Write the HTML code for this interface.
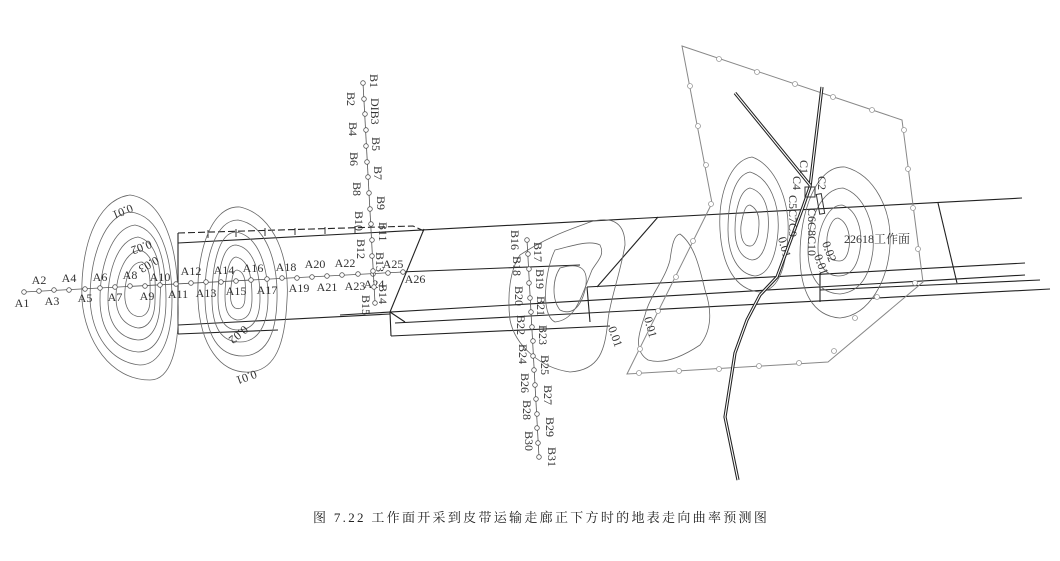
<!DOCTYPE html>
<html><head><meta charset="utf-8"><style>
html,body{margin:0;padding:0;background:#fff;width:1060px;height:561px;overflow:hidden}
svg{display:block}
text{font-family:"Liberation Serif","Noto Serif CJK SC",serif;font-size:12px;fill:#333}
.c{fill:none;stroke:#666;stroke-width:0.8}
.k{fill:none;stroke:#222;stroke-width:1.1}
.g{fill:none;stroke:#888;stroke-width:1}
.p{fill:#fff;stroke:#555;stroke-width:0.8}
.gp{fill:#fff;stroke:#999;stroke-width:0.8}
</style></head><body>
<svg width="1060" height="561" viewBox="0 0 1060 561" xmlns="http://www.w3.org/2000/svg">
<g class="k">
<line x1="178" y1="243" x2="1022" y2="198"/>
<polyline points="178,233 413,226 424,231" stroke-dasharray="7,3"/>
<line x1="178" y1="233" x2="178" y2="243"/>
<line x1="178" y1="243" x2="178" y2="334"/>
<line x1="178" y1="325" x2="390" y2="314"/>
<line x1="178" y1="334" x2="278" y2="330"/>
<line x1="424" y1="229" x2="390" y2="312"/>
<line x1="390" y1="312" x2="405" y2="322"/>
<line x1="390" y1="312" x2="391" y2="336"/>
<line x1="391" y1="336" x2="610" y2="326"/>
<line x1="395" y1="323" x2="1050" y2="289"/>
<line x1="340" y1="315" x2="1025" y2="275"/>
<line x1="587" y1="287" x2="1025" y2="263"/>
<line x1="587" y1="287" x2="590" y2="322"/>
<line x1="658" y1="217" x2="597" y2="287"/>
<line x1="938" y1="203" x2="957" y2="283"/>
<line x1="820" y1="273" x2="820" y2="302"/>
<line x1="820" y1="290" x2="1040" y2="280"/>
<line x1="400" y1="272" x2="580" y2="265"/>
</g>
<g stroke="#333" stroke-width="1">
<line x1="208" y1="230" x2="208" y2="238"/><line x1="236" y1="229" x2="236" y2="237"/><line x1="265" y1="228" x2="265" y2="236"/><line x1="295" y1="228" x2="295" y2="235"/><line x1="325" y1="227" x2="325" y2="234"/><line x1="355" y1="226" x2="355" y2="234"/>
</g>
<g class="c">
<path d="M130,195 C165,200 178,250 178,300 C180,350 170,380 150,380 C110,380 85,340 82,300 C80,250 95,200 130,195Z"/>
<path d="M130,212 C160,215 172,255 172,300 C172,340 160,365 140,365 C110,362 92,335 90,300 C90,255 105,215 130,212Z"/>
<path d="M135,225 C160,230 166,265 166,300 C166,335 155,352 138,352 C115,350 100,330 100,300 C100,265 112,228 135,225Z"/>
<path d="M138,237 C158,242 162,270 160,300 C160,328 150,340 138,340 C118,338 108,322 108,300 C108,270 118,240 138,237Z"/>
<path d="M140,250 C155,255 156,275 155,300 C155,320 147,328 138,328 C122,325 116,312 116,298 C116,275 125,252 140,250Z"/>
<path d="M142,262 C152,268 150,285 150,300 C150,315 142,318 136,316 C126,313 124,300 125,290 C126,275 132,262 142,262Z"/>
<path d="M240,207 C275,215 290,260 287,300 C285,345 275,370 250,372 C220,374 200,345 198,300 C196,255 210,205 240,207Z"/>
<path d="M238,220 C268,225 278,265 277,300 C276,335 266,355 243,356 C218,356 206,335 205,300 C204,260 215,220 238,220Z"/>
<path d="M236,232 C260,236 268,270 268,298 C268,325 258,342 240,342 C220,342 212,325 212,298 C212,268 218,232 236,232Z"/>
<path d="M236,245 C255,248 260,275 260,298 C260,320 252,330 238,330 C222,330 218,315 218,298 C218,272 222,245 236,245Z"/>
<path d="M236,257 C250,260 252,280 252,298 C252,315 246,320 237,320 C227,318 225,308 225,296 C225,280 228,258 236,257Z"/>
<path d="M237,270 C246,272 246,285 245,297 C245,308 240,310 235,308 C230,305 230,295 231,287 C232,278 233,270 237,270Z"/>
<path d="M520,255 C550,235 575,228 590,222 C615,215 625,225 625,245 C620,275 610,300 608,320 C605,350 600,370 570,372 C540,368 515,345 510,320 C507,295 510,270 520,255Z"/>
<path d="M555,250 C575,245 590,240 600,245 C605,255 598,260 592,270 C580,300 575,320 555,322 C540,315 545,270 555,250Z"/>
<path d="M560,268 C580,262 590,268 585,290 C580,310 570,315 560,310 C552,300 552,280 560,268Z"/>
<path d="M752,157 C775,165 790,200 788,235 C786,265 780,290 760,292 C735,290 722,265 720,230 C718,195 730,160 752,157Z"/>
<path d="M750,172 C770,178 780,205 778,232 C776,258 768,275 755,276 C738,274 728,255 728,230 C728,200 735,175 750,172Z"/>
<path d="M750,188 C765,192 770,210 768,232 C766,250 760,260 752,260 C740,258 735,245 735,230 C735,210 740,190 750,188Z"/>
<path d="M750,205 C760,210 760,222 758,235 C755,245 752,248 746,245 C740,240 740,228 742,220 C744,210 746,205 750,205Z"/>
<path d="M845,167 C875,175 892,210 890,245 C888,280 870,315 840,318 C812,316 800,290 800,255 C800,215 815,165 845,167Z"/>
<path d="M843,188 C865,195 875,225 873,250 C870,275 860,292 840,294 C818,293 808,275 808,250 C808,220 822,188 843,188Z"/>
<path d="M842,205 C858,210 863,232 860,250 C857,268 850,276 838,276 C823,275 818,262 818,248 C818,228 828,205 842,205Z"/>
<path d="M838,218 C848,222 852,238 848,252 C845,262 840,262 833,260 C826,255 826,240 828,232 C830,225 833,218 838,218Z"/>
<path d="M680,234 C695,245 700,270 705,290 C712,310 712,330 700,345 C685,355 665,365 648,360 C632,350 640,330 645,315 C650,295 665,280 670,260 C672,245 674,235 680,234Z"/>
</g>
<text transform="translate(131,204) rotate(158)">0.01</text>
<text transform="translate(150,240) rotate(160)">0.02</text>
<text transform="translate(156,256) rotate(150)">0.03</text>
<text transform="translate(244,325) rotate(140)">0.02</text>
<text transform="translate(255,370) rotate(160)">0.01</text>
<text transform="translate(608,328) rotate(70)">0.01</text>
<text transform="translate(644,318) rotate(75)">0.01</text>
<text transform="translate(778,238) rotate(75)">0.01</text>
<text transform="translate(822,243) rotate(70)">0.02</text>
<text transform="translate(814,256) rotate(70)">0.01</text>
<text x="844" y="243" font-size="13">22618工作面</text>
<polygon class="g" points="682,46 902,120 923,282 828,362 627,374 712,203"/>
<g class="gp">
<circle cx="719" cy="59" r="2.5"/><circle cx="757" cy="72" r="2.5"/><circle cx="795" cy="84" r="2.5"/><circle cx="833" cy="97" r="2.5"/><circle cx="872" cy="110" r="2.5"/>
<circle cx="904" cy="130" r="2.5"/><circle cx="908" cy="169" r="2.5"/><circle cx="913" cy="208" r="2.5"/><circle cx="918" cy="249" r="2.5"/>
<circle cx="915" cy="283" r="2.5"/><circle cx="877" cy="297" r="2.5"/><circle cx="855" cy="318" r="2.5"/><circle cx="834" cy="351" r="2.5"/>
<circle cx="799" cy="363" r="2.5"/><circle cx="759" cy="366" r="2.5"/><circle cx="719" cy="369" r="2.5"/><circle cx="679" cy="371" r="2.5"/><circle cx="639" cy="373" r="2.5"/>
<circle cx="640" cy="349" r="2.5"/><circle cx="658" cy="311" r="2.5"/><circle cx="676" cy="277" r="2.5"/><circle cx="693" cy="241" r="2.5"/><circle cx="711" cy="204" r="2.5"/>
<circle cx="706" cy="165" r="2.5"/><circle cx="698" cy="126" r="2.5"/><circle cx="690" cy="86" r="2.5"/>
</g>
<g fill="none">
<polyline points="822,87 810,187 803,207 777,277 760,295 747,320 735,353 725,417 738,480" stroke="#222" stroke-width="3.2"/>
<polyline points="822,87 810,187 803,207 777,277 760,295 747,320 735,353 725,417 738,480" stroke="#fff" stroke-width="1.1"/>
<polyline points="735,93 810,185" stroke="#222" stroke-width="3.2"/>
<polyline points="735,93 810,185" stroke="#fff" stroke-width="1.1"/>
</g>
<rect x="805" y="187" width="10" height="10" fill="none" stroke="#333"/>
<rect x="818" y="194" width="5" height="20" fill="none" stroke="#333" transform="rotate(-10 820 204)"/>
<text transform="translate(800,160) rotate(90)" font-size="11">C1</text>
<text transform="translate(818,176) rotate(90)" font-size="11">C2</text>
<text transform="translate(793,176) rotate(90)" font-size="11">C4</text>
<text transform="translate(789,195) rotate(90)" font-size="11">C5C7C9</text>
<text transform="translate(808,208) rotate(90)" font-size="11">C6C8C10</text>
<polyline points="24,292 403,272" stroke="#555" stroke-width="0.8" fill="none"/>
<g class="p">
<circle cx="24" cy="292" r="2.3"/><circle cx="39" cy="291" r="2.3"/><circle cx="54" cy="290" r="2.3"/><circle cx="69" cy="290" r="2.3"/><circle cx="85" cy="289" r="2.3"/><circle cx="100" cy="288" r="2.3"/><circle cx="115" cy="287" r="2.3"/><circle cx="130" cy="286" r="2.3"/><circle cx="145" cy="286" r="2.3"/><circle cx="160" cy="285" r="2.3"/><circle cx="176" cy="284" r="2.3"/><circle cx="191" cy="283" r="2.3"/><circle cx="206" cy="282" r="2.3"/><circle cx="221" cy="282" r="2.3"/><circle cx="236" cy="281" r="2.3"/><circle cx="251" cy="280" r="2.3"/><circle cx="267" cy="279" r="2.3"/><circle cx="282" cy="278" r="2.3"/><circle cx="297" cy="278" r="2.3"/><circle cx="312" cy="277" r="2.3"/><circle cx="327" cy="276" r="2.3"/><circle cx="342" cy="275" r="2.3"/><circle cx="358" cy="274" r="2.3"/><circle cx="373" cy="274" r="2.3"/><circle cx="388" cy="273" r="2.3"/><circle cx="403" cy="272" r="2.3"/>
</g>
<g text-anchor="middle">
<text x="22" y="307">A1</text><text x="39" y="284">A2</text><text x="52" y="305">A3</text><text x="69" y="282">A4</text><text x="85" y="302">A5</text><text x="100" y="281">A6</text><text x="115" y="301">A7</text><text x="130" y="279">A8</text><text x="147" y="300">A9</text><text x="160" y="281">A10</text><text x="178" y="298">A11</text><text x="191" y="275">A12</text><text x="206" y="297">A13</text><text x="224" y="274">A14</text><text x="236" y="295">A15</text><text x="253" y="272">A16</text><text x="267" y="294">A17</text><text x="286" y="271">A18</text><text x="299" y="292">A19</text><text x="315" y="268">A20</text><text x="327" y="291">A21</text><text x="345" y="267">A22</text><text x="355" y="290">A23</text><text x="374" y="288">A24</text><text x="393" y="268">A25</text><text x="415" y="283">A26</text>
</g>
<polyline points="363,83 375,303" stroke="#555" stroke-width="0.8" fill="none"/>
<polyline points="527,240 539,457" stroke="#555" stroke-width="0.8" fill="none"/>
<g class="p">
<circle cx="363" cy="83" r="2.3"/><circle cx="364" cy="99" r="2.3"/><circle cx="365" cy="114" r="2.3"/><circle cx="366" cy="130" r="2.3"/><circle cx="366" cy="146" r="2.3"/><circle cx="367" cy="162" r="2.3"/><circle cx="368" cy="177" r="2.3"/><circle cx="369" cy="193" r="2.3"/><circle cx="370" cy="209" r="2.3"/><circle cx="371" cy="224" r="2.3"/><circle cx="372" cy="240" r="2.3"/><circle cx="372" cy="256" r="2.3"/><circle cx="373" cy="271" r="2.3"/><circle cx="374" cy="287" r="2.3"/><circle cx="375" cy="303" r="2.3"/>
<circle cx="527" cy="240" r="2.3"/><circle cx="528" cy="254" r="2.3"/><circle cx="529" cy="269" r="2.3"/><circle cx="529" cy="283" r="2.3"/><circle cx="530" cy="298" r="2.3"/><circle cx="531" cy="312" r="2.3"/><circle cx="532" cy="327" r="2.3"/><circle cx="533" cy="341" r="2.3"/><circle cx="533" cy="356" r="2.3"/><circle cx="534" cy="370" r="2.3"/><circle cx="535" cy="385" r="2.3"/><circle cx="536" cy="399" r="2.3"/><circle cx="537" cy="414" r="2.3"/><circle cx="537" cy="428" r="2.3"/><circle cx="538" cy="443" r="2.3"/><circle cx="539" cy="457" r="2.3"/>
</g>
<g>
<text transform="translate(370,74) rotate(90)">B1</text>
<text transform="translate(347,92) rotate(90)">B2</text>
<text transform="translate(371,98) rotate(90)">DIB3</text>
<text transform="translate(349,122) rotate(90)">B4</text>
<text transform="translate(372,137) rotate(90)">B5</text>
<text transform="translate(350,152) rotate(90)">B6</text>
<text transform="translate(374,166) rotate(90)">B7</text>
<text transform="translate(353,182) rotate(90)">B8</text>
<text transform="translate(377,196) rotate(90)">B9</text>
<text transform="translate(355,211) rotate(90)">B10</text>
<text transform="translate(379,222) rotate(90)">B11</text>
<text transform="translate(357,239) rotate(90)">B12</text>
<text transform="translate(376,252) rotate(90)">B13</text>
<text transform="translate(379,284) rotate(90)">B14</text>
<text transform="translate(362,295) rotate(90)">B15</text>
<text transform="translate(511,230) rotate(90)">B16</text>
<text transform="translate(534,242) rotate(90)">B17</text>
<text transform="translate(513,256) rotate(90)">B18</text>
<text transform="translate(536,269) rotate(90)">B19</text>
<text transform="translate(515,286) rotate(90)">B20</text>
<text transform="translate(537,296) rotate(90)">B21</text>
<text transform="translate(517,315) rotate(90)">B22</text>
<text transform="translate(539,325) rotate(90)">B23</text>
<text transform="translate(519,344) rotate(90)">B24</text>
<text transform="translate(541,355) rotate(90)">B25</text>
<text transform="translate(521,373) rotate(90)">B26</text>
<text transform="translate(544,385) rotate(90)">B27</text>
<text transform="translate(523,400) rotate(90)">B28</text>
<text transform="translate(546,417) rotate(90)">B29</text>
<text transform="translate(525,431) rotate(90)">B30</text>
<text transform="translate(548,447) rotate(90)">B31</text>
</g>
<text x="313" y="522" style="font-size:13px;letter-spacing:2.3px;fill:#222">图 7.22  工作面开采到皮带运输走廊正下方时的地表走向曲率预测图</text>
</svg>
</body></html>
